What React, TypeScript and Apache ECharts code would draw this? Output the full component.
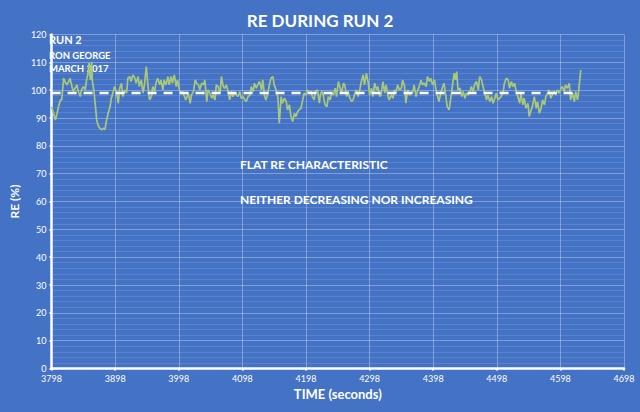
import React, { useEffect, useRef } from "react";
import * as echarts from "echarts";

const TITLE = "RE DURING RUN 2";
const X_NAME = "TIME (seconds)";
const Y_NAME = "RE (%)";
const NOTES_TOP = ["RUN 2", "RON GEORGE", "MARCH 2017"];
const NOTES_MID = ["FLAT RE CHARACTERISTIC", "NEITHER DECREASING NOR INCREASING"];

const X_MIN = 3798;
const X_MAX = 4698;
const X_STEP = 100;
const Y_MIN = 0;
const Y_MAX = 120;
const Y_STEP = 10;

// [time (s), RE (%)]
const SEG_1: [number, number][] = [
  [3798, 94.1], [3801, 91.7], [3804, 89.3], [3806, 91.1], [3809, 94.1], [3812, 96.5], [3814, 96.5],
  [3817, 104.3], [3819, 103.1], [3822, 101.9], [3825, 103.1], [3827, 104.3], [3830, 101.3], [3832, 99.5],
  [3835, 100.7], [3838, 101.9], [3840, 99.5], [3843, 97.7], [3845, 100.1], [3848, 101.3], [3851, 100.1],
  [3853, 103.7], [3855, 105.5], [3857, 109.7], [3859, 103.7], [3861, 110.2], [3862, 103.7], [3865, 98.9],
  [3866, 96.5], [3869, 89.3], [3871, 87.5], [3874, 86.3], [3877, 85.7], [3879, 86.3], [3882, 85.9],
  [3884, 88.7], [3887, 91.7], [3890, 94.1], [3892, 97.1], [3895, 99.5], [3897, 101.3], [3900, 99.5],
  [3903, 95.3], [3905, 100.7], [3908, 102.5], [3910, 97.7], [3913, 100.1], [3916, 98.9], [3918, 104.3],
  [3921, 104.9], [3923, 103.1], [3926, 105.5], [3929, 104.3], [3931, 102.5], [3934, 104.9], [3936, 101.3],
  [3939, 103.7], [3942, 98.9], [3944, 101.9], [3947, 108.5], [3949, 103.1], [3952, 96.5], [3955, 97.7],
  [3957, 101.3], [3960, 99.5], [3962, 102.5], [3965, 104.3], [3968, 101.9], [3970, 103.7], [3973, 100.1],
  [3975, 103.7], [3978, 101.9], [3981, 104.9], [3983, 101.9], [3986, 104.9], [3988, 102.5], [3991, 105.5],
  [3994, 101.3], [3996, 103.7], [3999, 100.1], [4001, 98.9], [4004, 99.5], [4007, 97.7], [4009, 96.5],
];
const SEG_2: [number, number][] = [
  [4013, 98.9], [4016, 95.3], [4018, 98.3], [4021, 99.5], [4024, 103.7], [4026, 102.5], [4029, 101.9],
  [4031, 100.1], [4034, 102.5], [4037, 101.9], [4039, 103.7], [4042, 95.9], [4044, 100.1], [4047, 98.9],
  [4050, 97.1], [4052, 98.3], [4055, 96.5], [4057, 101.9], [4060, 101.3], [4063, 98.9], [4065, 104.9],
  [4068, 101.3], [4070, 100.7], [4073, 101.9], [4076, 98.9], [4078, 96.5], [4081, 99.5], [4083, 97.7],
  [4086, 98.9], [4089, 98.3], [4091, 97.7], [4094, 99.5], [4096, 97.1], [4099, 97.7], [4102, 96.5],
  [4104, 95.9], [4107, 97.7], [4110, 98.3], [4112, 101.3], [4115, 99.5], [4117, 102.5], [4120, 100.7],
  [4122, 101.9], [4125, 103.1], [4128, 100.1], [4130, 103.7], [4133, 97.7], [4135, 96.5], [4138, 98.9],
  [4141, 102.5], [4143, 104.3], [4146, 104.9], [4148, 101.9], [4151, 100.1], [4154, 97.1], [4156, 88.1],
  [4159, 97.7], [4161, 95.3], [4164, 97.1], [4167, 95.9], [4169, 92.9], [4172, 94.7], [4174, 91.1],
  [4177, 88.7], [4180, 91.7], [4182, 90.5], [4185, 92.3], [4187, 92.9], [4190, 93.5], [4193, 96.5],
  [4195, 98.9], [4198, 98.3], [4200, 100.1], [4203, 98.9], [4206, 99.5], [4208, 97.7], [4211, 96.5],
  [4213, 99.5], [4216, 100.1], [4219, 95.3], [4221, 98.9],
];
const SEG_3: [number, number][] = [
  [4223, 99.5], [4225, 98.3], [4228, 94.7], [4231, 94.1], [4233, 97.7], [4236, 96.5], [4238, 98.9],
  [4241, 98.3], [4244, 100.7], [4246, 97.7], [4249, 103.1], [4251, 101.3], [4254, 98.9], [4257, 102.5],
  [4259, 101.9], [4262, 97.7], [4264, 99.5], [4267, 97.1], [4270, 95.9], [4272, 96.5], [4275, 98.9],
  [4277, 100.1], [4280, 97.7], [4283, 100.7], [4285, 103.1], [4288, 105.5], [4290, 101.9], [4293, 106.1],
  [4296, 102.5], [4298, 98.3], [4301, 100.7], [4303, 97.7], [4306, 102.5], [4309, 100.1], [4311, 101.3],
  [4314, 97.7], [4316, 98.3], [4319, 103.1], [4322, 98.9], [4324, 101.9], [4327, 97.7], [4329, 96.5],
  [4332, 98.3], [4335, 97.1], [4337, 100.1], [4340, 99.5], [4342, 101.9], [4345, 100.1], [4348, 100.7],
  [4350, 103.7], [4353, 101.3], [4355, 95.3], [4358, 100.1], [4361, 98.3], [4363, 98.9], [4366, 99.5],
  [4368, 101.9], [4371, 97.7], [4374, 100.1], [4376, 101.3], [4379, 103.7], [4381, 101.9], [4384, 102.5],
  [4387, 101.3], [4389, 104.9], [4392, 103.1], [4394, 104.3], [4397, 101.9], [4400, 103.7], [4402, 100.7],
  [4405, 97.7], [4407, 95.9], [4410, 98.9], [4413, 101.3], [4415, 102.5], [4418, 97.7], [4420, 94.1],
  [4423, 92.9], [4426, 97.7], [4428, 101.3], [4431, 106.1], [4433, 103.7],
];
const SEG_4: [number, number][] = [
  [4435, 106.7], [4437, 100.1], [4440, 100.7], [4443, 97.7], [4445, 99.5], [4448, 97.1], [4450, 98.9],
  [4453, 98.3], [4456, 99.5], [4458, 101.3], [4461, 99.5], [4463, 101.9], [4466, 103.1], [4469, 100.1],
  [4471, 104.9], [4474, 103.7], [4477, 100.7], [4479, 98.9], [4482, 96.5], [4484, 98.3], [4487, 95.9],
  [4490, 97.7], [4492, 95.3], [4495, 97.1], [4497, 98.9], [4500, 96.5], [4502, 97.1], [4505, 97.7],
  [4508, 99.5], [4510, 102.5], [4513, 104.3], [4516, 103.7], [4518, 100.7], [4521, 103.1], [4523, 101.3],
  [4526, 102.5], [4528, 100.1], [4531, 97.7], [4534, 95.3], [4536, 98.9], [4539, 94.7], [4541, 97.1],
  [4544, 93.5], [4547, 95.3], [4549, 90.5], [4552, 92.9], [4554, 94.1], [4557, 97.7], [4560, 93.5],
  [4562, 95.9], [4565, 91.7], [4567, 92.9], [4570, 96.5], [4573, 94.7], [4575, 97.7], [4578, 98.9],
  [4580, 100.1], [4583, 97.1], [4586, 98.9], [4588, 99.5], [4591, 98.3], [4593, 100.1], [4596, 98.9],
  [4599, 100.7], [4601, 101.3], [4604, 99.5], [4606, 101.9], [4609, 100.7], [4612, 102.5], [4614, 96.5],
  [4617, 98.9], [4620, 95.9], [4622, 99.5], [4625, 96.5], [4627, 100.1], [4630, 107.3],
];

const MEAN_LINE: [number, number][] = [
  [3798, 99],
  [4625, 99],
];

const BG = "#4472C4";
const FONT = "Lato, 'Open Sans', sans-serif";

export default function App() {
  const ref = useRef<HTMLDivElement>(null);

  useEffect(() => {
    if (!ref.current) return;
    const chart = echarts.init(ref.current, undefined, { renderer: "svg" });
    const series = [...SEG_1, ...SEG_2, ...SEG_3, ...SEG_4];

    chart.setOption({
      animation: false,
      backgroundColor: BG,
      textStyle: { fontFamily: FONT },
      title: {
        text: TITLE,
        left: "center",
        top: 7,
        textStyle: { color: "#fff", fontSize: 17, fontWeight: "bold", fontFamily: FONT },
      },
      grid: { left: 47, top: 34.5, width: 577, height: 334 },
      xAxis: {
        type: "value",
        min: X_MIN,
        max: X_MAX,
        interval: X_STEP,
        name: X_NAME,
        nameLocation: "middle",
        nameGap: 17,
        nameTextStyle: { color: "#fff", fontSize: 13, fontWeight: "bold", fontFamily: FONT },
        axisLine: { show: true, onZero: false, lineStyle: { color: "#fff", width: 2.5 } },
        axisTick: { show: true, length: 2, lineStyle: { color: "#fff", width: 2 } },
        axisLabel: {
          color: "#fff",
          fontSize: 9,
          margin: 5,
          fontFamily: FONT,
          formatter: (v: number) => String(v),
        },
        splitLine: { show: true, lineStyle: { color: "rgba(255,255,255,0.32)", width: 1 } },
      },
      yAxis: {
        type: "value",
        min: Y_MIN,
        max: Y_MAX,
        interval: Y_STEP,
        name: Y_NAME,
        nameLocation: "middle",
        nameGap: 20,
        nameRotate: 90,
        nameTextStyle: { color: "#fff", fontSize: 12, fontWeight: "bold", fontFamily: FONT },
        axisLine: { show: true, lineStyle: { color: "#fff", width: 2.5 } },
        axisTick: { show: true, length: 2, lineStyle: { color: "#fff", width: 2 } },
        axisLabel: { color: "#fff", fontSize: 9, margin: 5, fontFamily: FONT },
        splitLine: { show: true, lineStyle: { color: "rgba(255,255,255,0.32)", width: 1 } },
        minorTick: { show: false, splitNumber: 5 },
        minorSplitLine: { show: true, lineStyle: { color: "rgba(255,255,255,0.12)", width: 1 } },
      },
      series: [
        {
          type: "line",
          data: series,
          showSymbol: false,
          symbol: "none",
          lineStyle: { color: "#A9C878", width: 1.7 },
          z: 3,
        },
        {
          type: "line",
          data: MEAN_LINE,
          showSymbol: false,
          symbol: "none",
          lineStyle: { color: "#fff", width: 2.6, type: [9, 7] },
          z: 4,
        },
      ],
      graphic: [
        {
          type: "text",
          left: 49,
          top: 34,
          style: { text: NOTES_TOP[0], fill: "#fff", font: `bold 11px ${FONT}` },
        },
        {
          type: "text",
          left: 49,
          top: 50,
          style: { text: NOTES_TOP[1], fill: "#fff", font: `bold 9.5px ${FONT}` },
        },
        {
          type: "text",
          left: 49,
          top: 63,
          style: { text: NOTES_TOP[2], fill: "#fff", font: `bold 9.5px ${FONT}` },
        },
        {
          type: "text",
          left: 240,
          top: 158,
          style: { text: NOTES_MID[0], fill: "#fff", font: `bold 12px ${FONT}` },
        },
        {
          type: "text",
          left: 240,
          top: 193,
          style: { text: NOTES_MID[1], fill: "#fff", font: `bold 12px ${FONT}` },
        },
      ],
    });

    return () => chart.dispose();
  }, []);

  return <div ref={ref} style={{ width: 640, height: 412, position: "fixed", left: 0, top: 0 }} />;
}
